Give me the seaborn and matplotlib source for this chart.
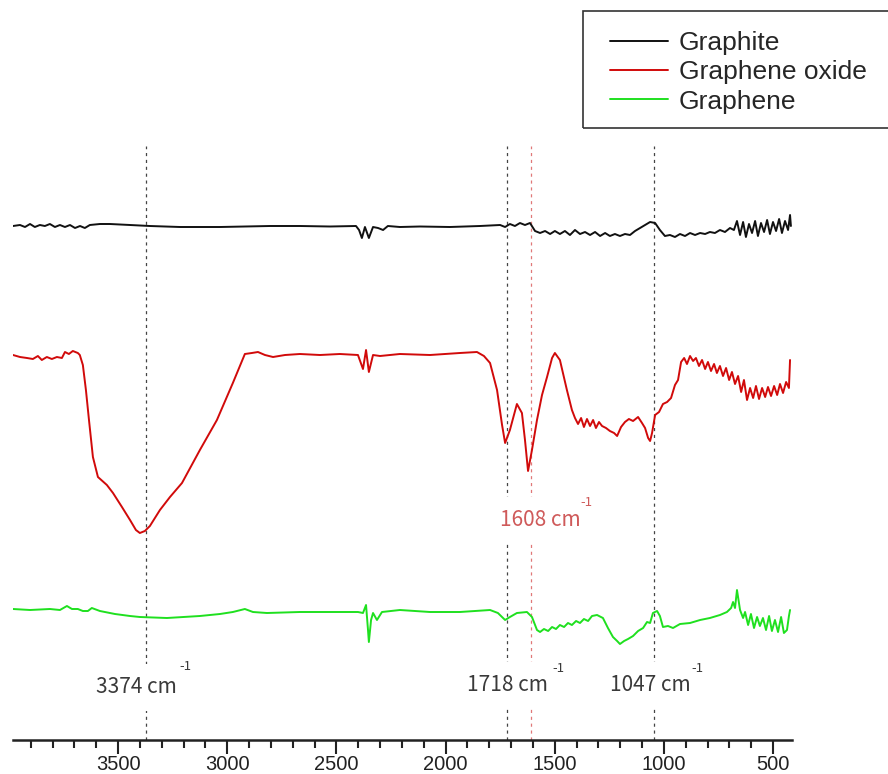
import numpy as np
import pandas as pd
import matplotlib
matplotlib.use("Agg")
import matplotlib.pyplot as plt
from matplotlib.ticker import MultipleLocator
from matplotlib.patches import Rectangle
import seaborn as sns

# FT-IR spectra (stacked, arbitrary transmittance units)
graphite_wn = [3981, 3949, 3926, 3903, 3881, 3858, 3835, 3812, 3789, 3766, 3743, 3720, 3697, 3674,
               3652, 3629, 3583, 3537, 3445, 3354, 3216, 3033, 2804, 2666, 2529, 2410, 2396, 2383,
               2369, 2351, 2332, 2309, 2286, 2264, 2209, 2117, 1980, 1842, 1750, 1727, 1705, 1682,
               1659, 1636, 1613, 1590, 1567, 1544, 1521, 1499, 1476, 1453, 1430, 1407, 1384, 1361,
               1338, 1315, 1292, 1269, 1247, 1224, 1201, 1178, 1155, 1132, 1109, 1086, 1063, 1040,
               1018, 995, 972, 949, 926, 903, 880, 857, 834, 811, 789, 766, 743, 720, 697, 679,
               665, 651, 637, 624, 610, 596, 582, 569, 555, 541, 527, 514, 500, 486, 472, 459,
               445, 431, 422, 418]
graphite_t = [51.4, 51.5, 51.3, 51.6, 51.3, 51.5, 51.4, 51.6, 51.3, 51.5, 51.3, 51.5, 51.2, 51.4,
              51.2, 51.5, 51.6, 51.6, 51.5, 51.4, 51.3, 51.3, 51.4, 51.4, 51.35, 51.4, 51.0, 50.2,
              51.3, 50.2, 51.3, 51.2, 51.0, 51.4, 51.3, 51.35, 51.3, 51.4, 51.5, 51.3, 51.6, 51.4,
              51.7, 51.5, 51.7, 50.9, 50.7, 50.9, 50.6, 50.9, 50.6, 50.9, 50.5, 51.0, 50.6, 50.8,
              50.5, 50.8, 50.4, 50.7, 50.4, 50.6, 50.4, 50.6, 50.5, 50.9, 51.2, 51.5, 51.8, 51.7,
              51.0, 50.4, 50.5, 50.3, 50.6, 50.4, 50.7, 50.5, 50.7, 50.6, 50.8, 50.7, 51.0, 50.8,
              51.2, 51.0, 51.9, 50.5, 51.8, 50.3, 51.6, 50.7, 51.9, 50.4, 51.7, 50.8, 52.0, 50.6,
              51.8, 50.9, 52.1, 50.7, 51.9, 51.0, 52.5, 51.4]

go_wn = [3981, 3949, 3917, 3890, 3867, 3849, 3826, 3803, 3780, 3757, 3743, 3725, 3707, 3684,
         3675, 3661, 3647, 3633, 3615, 3592, 3551, 3523, 3482, 3445, 3418, 3400, 3377, 3354,
         3308, 3262, 3207, 3125, 3047, 2974, 2919, 2887, 2859, 2827, 2790, 2735, 2667, 2575,
         2484, 2401, 2378, 2364, 2351, 2332, 2300, 2209, 2071, 1934, 1856, 1824, 1796, 1764,
         1741, 1727, 1705, 1673, 1650, 1636, 1622, 1604, 1581, 1558, 1535, 1512, 1499, 1476,
         1457, 1444, 1421, 1407, 1393, 1379, 1366, 1352, 1338, 1324, 1311, 1297, 1283, 1265,
         1247, 1228, 1214, 1196, 1178, 1160, 1141, 1118, 1100, 1086, 1072, 1063, 1054, 1040,
         1022, 1004, 985, 967, 949, 935, 921, 907, 894, 880, 866, 853, 839, 825, 811, 798,
         784, 770, 757, 743, 729, 715, 701, 688, 674, 660, 646, 633, 619, 605, 591, 578, 564,
         550, 536, 523, 509, 495, 481, 468, 454, 440, 427, 422]
go_t = [38.5, 38.3, 38.2, 38.1, 38.4, 38.0, 38.3, 38.1, 38.3, 38.2, 38.8, 38.6, 38.9, 38.7,
        38.5, 37.5, 35.0, 32.0, 28.3, 26.3, 25.5, 24.7, 23.3, 22.0, 21.0, 20.7, 20.9, 21.4,
        23.0, 24.3, 25.7, 29.0, 32.0, 35.7, 38.6, 38.7, 38.8, 38.5, 38.3, 38.5, 38.6, 38.5,
        38.6, 38.5, 37.1, 39.0, 36.8, 38.5, 38.4, 38.6, 38.5, 38.7, 38.8, 38.4, 37.7, 35.0,
        31.5, 29.7, 31.0, 33.6, 32.7, 30.0, 26.9, 29.0, 32.0, 34.5, 36.3, 38.2, 38.7, 38.0,
        36.2, 35.0, 33.0, 32.2, 31.6, 32.2, 31.3, 32.1, 31.4, 32.0, 31.2, 31.8, 31.4, 31.2,
        30.9, 30.7, 30.4, 31.3, 31.8, 32.1, 31.9, 32.3, 31.7, 31.2, 30.2, 29.9, 30.7, 32.5,
        32.8, 33.6, 33.8, 34.2, 35.5, 36.0, 37.8, 38.2, 37.6, 38.4, 37.9, 38.2, 37.4, 38.0,
        37.1, 37.8, 36.9, 37.6, 36.7, 37.4, 36.4, 37.2, 36.0, 36.8, 35.6, 36.4, 34.8, 36.0,
        34.0, 35.2, 34.2, 35.4, 34.1, 35.2, 34.3, 35.3, 34.4, 35.4, 34.5, 35.6, 34.7, 35.8,
        35.2, 38.0]

graphene_wn = [3981, 3903, 3812, 3766, 3734, 3711, 3684, 3661, 3638, 3620, 3583, 3514, 3445, 3400,
               3276, 3125, 3033, 2974, 2919, 2882, 2818, 2667, 2529, 2401, 2378, 2364, 2355, 2351,
               2341, 2332, 2314, 2291, 2209, 2071, 1934, 1796, 1760, 1727, 1705, 1673, 1627, 1604,
               1581, 1567, 1549, 1530, 1512, 1494, 1476, 1457, 1439, 1421, 1402, 1384, 1366, 1347,
               1329, 1306, 1279, 1256, 1233, 1214, 1201, 1182, 1164, 1141, 1118, 1095, 1077, 1063,
               1050, 1031, 1018, 1004, 981, 958, 926, 880, 834, 789, 743, 711, 692, 683, 674, 665,
               651, 637, 628, 614, 601, 587, 573, 560, 546, 532, 518, 505, 491, 477, 463, 450, 436,
               427, 422]
graphene_t = [13.1, 13.0, 13.1, 13.0, 13.4, 13.1, 13.1, 12.9, 12.9, 13.2, 12.9, 12.6, 12.4, 12.3,
              12.2, 12.4, 12.6, 12.8, 13.1, 12.8, 12.7, 12.8, 12.8, 12.8, 12.7, 13.5, 11.0, 9.8,
              12.0, 12.7, 12.0, 12.8, 13.0, 12.8, 12.8, 13.0, 12.7, 12.0, 12.3, 12.7, 12.8, 12.3,
              11.0, 10.8, 11.1, 10.9, 11.3, 11.1, 11.5, 11.3, 11.7, 11.5, 11.9, 11.7, 12.1, 11.9,
              12.4, 12.5, 12.2, 11.2, 10.3, 9.9, 9.6, 9.9, 10.1, 10.4, 10.9, 11.2, 11.8, 11.7,
              12.7, 12.9, 12.4, 11.3, 11.4, 11.2, 11.6, 11.7, 12.0, 12.2, 12.5, 12.8, 13.2, 13.8,
              13.2, 15.0, 13.0, 12.2, 12.8, 11.5, 12.6, 11.2, 12.3, 11.4, 12.2, 11.0, 12.4, 10.9,
              12.0, 10.8, 12.3, 10.7, 11.0, 12.4, 13.0]

samples = ["Graphite", "Graphene oxide", "Graphene"]
colors = ["#111111", "#d10a0a", "#1fe01f"]

# Marked band positions (cm-1)
band_black = [3374, 1718, 1047]
band_red = [1608]
tick_values = [3500, 3000, 2500, 2000, 1500, 1000, 500]

df = pd.concat([
    pd.DataFrame({"wavenumber": graphite_wn, "T": graphite_t, "sample": "Graphite"}),
    pd.DataFrame({"wavenumber": go_wn, "T": go_t, "sample": "Graphene oxide"}),
    pd.DataFrame({"wavenumber": graphene_wn, "T": graphene_t, "sample": "Graphene"}),
], ignore_index=True)

sns.set_theme(style="white")
plt.rcParams["font.family"] = ["Liberation Sans", "DejaVu Sans"]

fig = plt.figure(figsize=(8.88, 7.74), dpi=100)
ax = fig.add_axes([13 / 888, 34 / 774, 779 / 888, 600 / 774])

sns.lineplot(data=df, x="wavenumber", y="T", hue="sample", hue_order=samples,
             palette=colors, estimator=None, linewidth=1.4, ax=ax)

ax.set_xlim(3981, 413)
ax.set_ylim(0, 60)

# Dashed guide lines at assigned bands
ax.vlines(band_black, 0, 59.4, colors="#444444", linestyles=(0, (2.5, 3)), linewidth=0.9, zorder=1)
ax.vlines(band_red, 0, 59.4, colors="#e07878", linestyles=(0, (2.5, 3)), linewidth=0.9, zorder=1)

ann_font = ["Noto Sans CJK KR", "DejaVu Sans"]
box = dict(facecolor="white", edgecolor="none", pad=9)
labels = [(3415, 5.3, "3374 cm", 3193, 7.3, "#3a3a3a"),
          (1714, 5.5, "1718 cm", 1485, 7.2, "#3a3a3a"),
          (1063, 5.5, "1047 cm", 848, 7.2, "#3a3a3a"),
          (1567, 22.0, "1608 cm", 1357, 23.8, "#cf5a5a")]
for x, y, txt, sx, sy, c in labels:
    ax.text(x, y, txt, ha="center", va="center", fontsize=15, color=c,
            family=ann_font, bbox=box, zorder=5)
    ax.text(sx, sy, "-1", ha="center", va="center", fontsize=9.5, color=c,
            family=ann_font, zorder=6)

# Axis styling: only the bottom wavenumber axis
for s in ["left", "right", "top"]:
    ax.spines[s].set_visible(False)
ax.spines["bottom"].set_linewidth(1.8)
ax.spines["bottom"].set_color("#222222")
ax.set_xticks(tick_values)
ax.set_xticklabels([str(v) for v in tick_values])
ax.xaxis.set_minor_locator(MultipleLocator(100))
ax.tick_params(axis="x", which="major", bottom=True, length=10, width=1.5,
               direction="out", labelsize=14.5, pad=1, color="#222222", labelcolor="#222222")
ax.tick_params(axis="x", which="minor", bottom=True, length=6, width=1.5,
               direction="out", color="#222222")
ax.set_yticks([])
ax.set_xlabel("")
ax.set_ylabel("")

# Legend
sns.move_legend(ax, loc="upper left", bbox_to_anchor=(610 / 888, 1 - 31 / 774),
                bbox_transform=fig.transFigure, title=None, frameon=False,
                fontsize=19, handlelength=2.2, handletextpad=0.4,
                labelspacing=0.2, borderpad=0, borderaxespad=0)
for line in ax.get_legend().get_lines():
    line.set_linewidth(1.4)
fig.patches.append(Rectangle((583 / 888, 1 - 128 / 774), (892 - 583) / 888, 117 / 774,
                             transform=fig.transFigure, fill=False,
                             edgecolor="#333333", linewidth=1.2))

fig.savefig("out.png", dpi=100, facecolor="white")
